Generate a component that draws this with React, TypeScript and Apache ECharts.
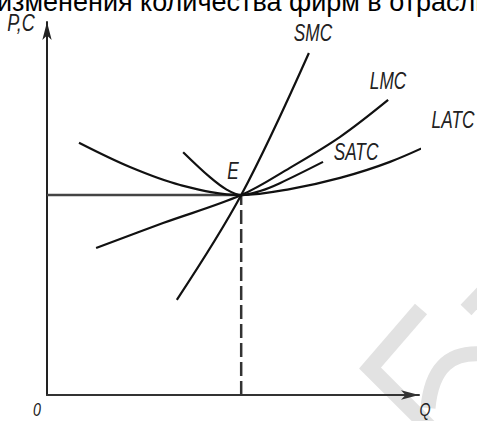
import React, { useEffect, useRef } from "react";
import * as echarts from "echarts";

// Curves (Q, P) in arbitrary units: Q axis 0..100, P axis 0..100
const smcQ = [34.9, 52.2, 70.4];
const smcP = [25.5, 53.6, 91.7];
const lmcQ = [13.2, 31.2, 52.2, 65.3, 78.8, 91.7];
const lmcP = [39.4, 46.1, 53.6, 60.9, 69.2, 79.1];
const latcQ = [8.6, 22.3, 35.8, 52.2, 65.3, 78.8, 92.2, 105.6];
const latcP = [67.6, 61.1, 56.3, 53.6, 55.2, 58.2, 62.5, 68.4];
const satcQ = [36.6, 43.8, 48.4, 52.2, 57.3, 62.6, 74.2];
const satcP = [65.1, 58.4, 55.0, 53.6, 54.7, 56.8, 62.5];
const eQ = 52.2;
const eP = 53.6;

const titleText = "изменения количества фирм в отрасли";
const labels = ["P,C", "SMC", "LMC", "LATC", "SATC", "E", "0", "Q"];

const zip = (a: number[], b: number[]) => a.map((v, i) => [v, b[i]]);

const curve = (name: string, data: number[][]) => ({
  name,
  type: "line",
  data,
  smooth: 0.35,
  showSymbol: false,
  clip: false,
  lineStyle: { color: "#111", width: 2.2 },
  z: 3,
});

const labelPos: Record<string, [number, number, number]> = {
  "P,C": [21, 23, 24],
  SMC: [313, 33, 23],
  LMC: [388, 81, 23],
  LATC: [453, 120, 23],
  SATC: [356, 152, 23],
  E: [233, 171, 23],
  "0": [37, 410, 19],
  Q: [425, 410, 19],
};

const labelEl = (t: string) => ({
  type: "text",
  x: labelPos[t][0],
  y: labelPos[t][1],
  scaleX: 0.75,
  z: 10,
  style: {
    text: t,
    x: 0,
    y: 0,
    fill: "#222",
    fontSize: labelPos[t][2],
    fontStyle: "italic",
    fontFamily: "Liberation Sans, Arial, sans-serif",
    align: "center",
    verticalAlign: "middle",
    textAlign: "center",
    textVerticalAlign: "middle",
  },
});

const wm = "#e2e2e2";

const option = {
  animation: false,
  backgroundColor: "#fff",
  grid: { left: 47, right: 58, top: 22, bottom: 26 },
  xAxis: {
    type: "value",
    min: 0,
    max: 100,
    axisLine: {
      show: true,
      symbol: ["none", "arrow"],
      symbolSize: [7, 18],
      lineStyle: { color: "#333", width: 2 },
    },
    axisTick: { show: false },
    axisLabel: { show: false },
    splitLine: { show: false },
  },
  yAxis: {
    type: "value",
    min: 0,
    max: 100,
    axisLine: {
      show: true,
      symbol: ["none", "arrow"],
      symbolSize: [7, 18],
      lineStyle: { color: "#222", width: 2 },
    },
    axisTick: { show: false },
    axisLabel: { show: false },
    splitLine: { show: false },
  },
  series: [
    {
      name: "price",
      type: "line",
      data: [
        [0, eP],
        [eQ, eP],
      ],
      showSymbol: false,
      lineStyle: { color: "#444", width: 2.6 },
      z: 2,
    },
    {
      name: "drop",
      type: "line",
      data: [
        [eQ, 0],
        [eQ, eP],
      ],
      showSymbol: false,
      lineStyle: { color: "#333", width: 2.5, type: [14, 5] },
      z: 2,
    },
    curve("SMC", zip(smcQ, smcP)),
    curve("LMC", zip(lmcQ, lmcP)),
    curve("LATC", zip(latcQ, latcP)),
    curve("SATC", zip(satcQ, satcP)),
  ],
  graphic: [
    {
      type: "polyline",
      z: -5,
      silent: true,
      shape: {
        points: [
          [421, 309],
          [370, 368],
          [430, 428],
        ],
      },
      style: { stroke: wm, lineWidth: 16, fill: null, lineJoin: "miter" },
    },
    {
      type: "polyline",
      z: -5,
      silent: true,
      shape: {
        points: [
          [484, 291],
          [466, 310],
        ],
      },
      style: { stroke: wm, lineWidth: 15, fill: null },
    },
    {
      type: "bezierCurve",
      z: -5,
      silent: true,
      shape: { x1: 428, y1: 408, cpx1: 432, cpy1: 365, cpx2: 452, cpy2: 352, x2: 482, y2: 354 },
      style: { stroke: wm, lineWidth: 15, fill: null },
    },
    {
      type: "text",
      x: -3,
      y: 1.6,
      z: 10,
      style: {
        text: titleText,
        x: 0,
        y: 0,
        fill: "#000",
        fontSize: 27,
        fontFamily: "Liberation Sans, Arial, sans-serif",
        align: "left",
        verticalAlign: "middle",
        textAlign: "left",
        textVerticalAlign: "middle",
      },
    },
    ...labels.map(labelEl),
  ],
};

export default function App() {
  const ref = useRef<HTMLDivElement>(null);
  useEffect(() => {
    if (!ref.current) return;
    const chart = echarts.init(ref.current, null, { renderer: "svg" });
    chart.setOption(option as any);
    return () => chart.dispose();
  }, []);
  return (
    <div
      ref={ref}
      style={{ position: "absolute", left: 0, top: 0, width: 477, height: 421 }}
    />
  );
}
